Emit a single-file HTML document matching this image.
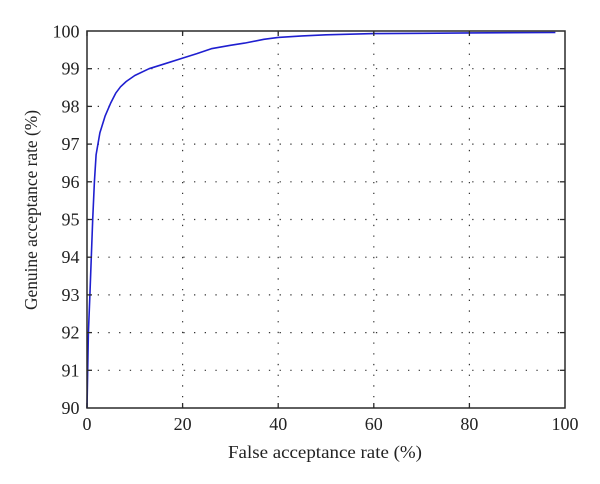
<!DOCTYPE html>
<html><head><meta charset="utf-8"><style>
html,body{margin:0;padding:0;background:#fff;}
svg{display:block;}
text{font-family:"Liberation Serif",serif;fill:#222;}
</style></head><body>
<svg width="600" height="484" viewBox="0 0 600 484" xmlns="http://www.w3.org/2000/svg">
<rect width="600" height="484" fill="#fff"/>
<g stroke="#333" stroke-width="1.2" stroke-dasharray="1.3 9.4" fill="none">
<line x1="182.6" y1="408" x2="182.6" y2="31"/>
<line x1="278.2" y1="408" x2="278.2" y2="31"/>
<line x1="373.8" y1="408" x2="373.8" y2="31"/>
<line x1="469.4" y1="408" x2="469.4" y2="31"/>
<line x1="87" y1="370.3" x2="565" y2="370.3"/>
<line x1="87" y1="332.6" x2="565" y2="332.6"/>
<line x1="87" y1="294.9" x2="565" y2="294.9"/>
<line x1="87" y1="257.2" x2="565" y2="257.2"/>
<line x1="87" y1="219.5" x2="565" y2="219.5"/>
<line x1="87" y1="181.8" x2="565" y2="181.8"/>
<line x1="87" y1="144.1" x2="565" y2="144.1"/>
<line x1="87" y1="106.4" x2="565" y2="106.4"/>
<line x1="87" y1="68.7" x2="565" y2="68.7"/>
</g>
<polyline fill="none" stroke="#1f1fd0" stroke-width="1.6" stroke-linejoin="round" points="87,408 87.7,370.3 88.4,332.6 89.9,294.9 91.3,257.2 92.7,219.5 94.4,181.8 96.1,154.7 99.9,132.8 105.2,115.8 110.9,102.6 115.7,93.2 120.5,86.8 126.2,81.5 134.8,75.5 149.1,68.7 163.5,64.2 182.6,58.1 196.9,53.6 211.3,48.7 230.4,45.3 244.7,43.1 263.9,39.3 278.2,37.4 302.1,35.9 326,34.8 373.8,33.6 421.6,33.3 469.4,32.9 555.4,32.5"/>
<rect x="87" y="31" width="478" height="377" fill="none" stroke="#2a2a2a" stroke-width="1.5"/>
<g stroke="#2a2a2a" stroke-width="1.3">
<line x1="87" y1="408" x2="87" y2="403"/><line x1="87" y1="31" x2="87" y2="36"/>
<line x1="182.6" y1="408" x2="182.6" y2="403"/><line x1="182.6" y1="31" x2="182.6" y2="36"/>
<line x1="278.2" y1="408" x2="278.2" y2="403"/><line x1="278.2" y1="31" x2="278.2" y2="36"/>
<line x1="373.8" y1="408" x2="373.8" y2="403"/><line x1="373.8" y1="31" x2="373.8" y2="36"/>
<line x1="469.4" y1="408" x2="469.4" y2="403"/><line x1="469.4" y1="31" x2="469.4" y2="36"/>
<line x1="87" y1="370.3" x2="92" y2="370.3"/><line x1="565" y1="370.3" x2="560" y2="370.3"/>
<line x1="87" y1="332.6" x2="92" y2="332.6"/><line x1="565" y1="332.6" x2="560" y2="332.6"/>
<line x1="87" y1="294.9" x2="92" y2="294.9"/><line x1="565" y1="294.9" x2="560" y2="294.9"/>
<line x1="87" y1="257.2" x2="92" y2="257.2"/><line x1="565" y1="257.2" x2="560" y2="257.2"/>
<line x1="87" y1="219.5" x2="92" y2="219.5"/><line x1="565" y1="219.5" x2="560" y2="219.5"/>
<line x1="87" y1="181.8" x2="92" y2="181.8"/><line x1="565" y1="181.8" x2="560" y2="181.8"/>
<line x1="87" y1="144.1" x2="92" y2="144.1"/><line x1="565" y1="144.1" x2="560" y2="144.1"/>
<line x1="87" y1="106.4" x2="92" y2="106.4"/><line x1="565" y1="106.4" x2="560" y2="106.4"/>
<line x1="87" y1="68.7" x2="92" y2="68.7"/><line x1="565" y1="68.7" x2="560" y2="68.7"/>
</g>
<g font-size="18" text-anchor="end">
<text x="79.5" y="414">90</text>
<text x="79.5" y="376.3">91</text>
<text x="79.5" y="338.6">92</text>
<text x="79.5" y="300.9">93</text>
<text x="79.5" y="263.2">94</text>
<text x="79.5" y="225.5">95</text>
<text x="79.5" y="187.8">96</text>
<text x="79.5" y="150.1">97</text>
<text x="79.5" y="112.4">98</text>
<text x="79.5" y="74.7">99</text>
<text x="79.5" y="37.5">100</text>
</g>
<g font-size="18" text-anchor="middle">
<text x="87" y="430">0</text>
<text x="182.6" y="430">20</text>
<text x="278.2" y="430">40</text>
<text x="373.8" y="430">60</text>
<text x="469.4" y="430">80</text>
<text x="565" y="430">100</text>
</g>
<text x="325" y="458" font-size="17.5" text-anchor="middle" textLength="194" lengthAdjust="spacingAndGlyphs">False acceptance rate (%)</text>
<text transform="translate(37,210) rotate(-90)" font-size="17.5" text-anchor="middle" textLength="200" lengthAdjust="spacingAndGlyphs">Genuine acceptance rate (%)</text>
</svg>
</body></html>
